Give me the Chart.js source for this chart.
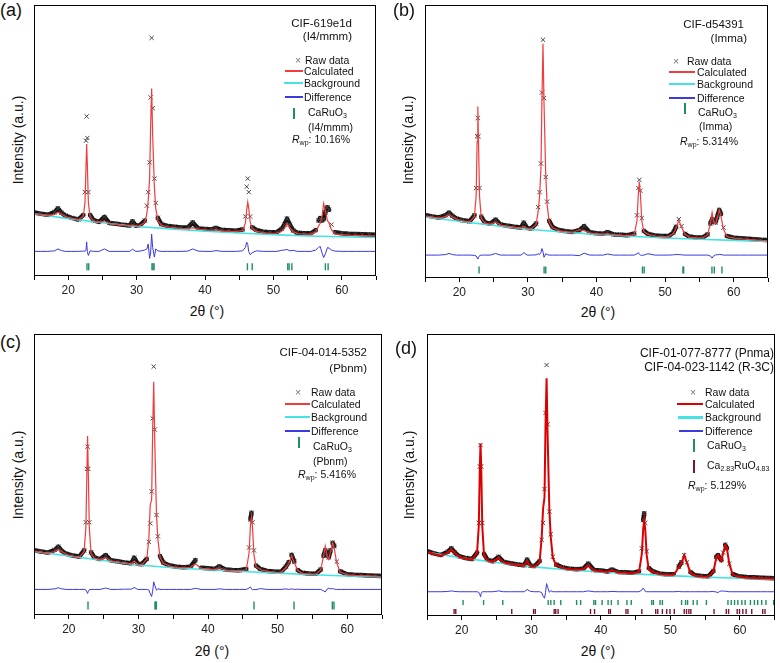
<!DOCTYPE html>
<html>
<head>
<meta charset="utf-8">
<script src="https://cdn.jsdelivr.net/npm/chart.js@4.4.0/dist/chart.umd.min.js"></script>
<style>
  html, body { margin: 0; padding: 0; background: #fff; overflow: hidden; }
  body { width: 780px; height: 663px; position: relative; font-family: "Liberation Sans", Arial, sans-serif; color: #111; }
  .box { position: absolute; }
  .t { position: absolute; white-space: nowrap; line-height: 1; }
  .l { transform: translate(0, -50%); }
  .r { transform: translate(-100%, -50%); }
  .c { transform: translate(-50%, -50%); }
  .v { transform: translate(-50%, -50%) rotate(-90deg); }
  .lt { font-size: 18px; }
  .ax { font-size: 14px; }
  .hd { font-size: 11.5px; }
  .lg { font-size: 10.5px; }
  .sb { font-size: 7px; vertical-align: -2px; }
  .ln { position: absolute; height: 2px; margin-top: -1px; }
  .bar { position: absolute; width: 1.5px; }
</style>
</head>
<body>

<!-- panel a -->
<div class="box" style="left:28px;top:0;width:354px;height:298px"><canvas id="cA"></canvas></div>
<div class="t l lt" style="left:0;top:10px">(a)</div>
<div class="t v ax" style="left:18px;top:140px">Intensity (a.u.)</div>
<div class="t c ax" style="left:207px;top:311px">2θ (°)</div>
<div class="t r hd" style="left:352px;top:24px">CIF-619e1d</div>
<div class="t r hd" style="left:352px;top:37px">(I4/mmm)</div>
<div class="t c lg" style="left:298px;top:60px;color:#777">×</div>
<div class="t l lg" style="left:305px;top:60px">Raw data</div>
<div class="ln" style="left:285px;width:18px;top:71px;background:#f03c3c"></div>
<div class="t l lg" style="left:304px;top:71px">Calculated</div>
<div class="ln" style="left:284px;width:19px;top:83px;background:#45e3e3"></div>
<div class="t l lg" style="left:304px;top:83px">Background</div>
<div class="ln" style="left:285px;width:18px;top:97px;background:#3a3ae0"></div>
<div class="t l lg" style="left:304px;top:97px">Difference</div>
<div class="bar" style="left:293px;top:108px;height:11px;background:#1f8f5f"></div>
<div class="t l lg" style="left:308px;top:113px">CaRuO<span class="sb">3</span></div>
<div class="t l lg" style="left:308px;top:127px">(I4/mmm)</div>
<div class="t l lg" style="left:292px;top:140px"><i>R</i><span class="sb">wp</span>: 10.16%</div>

<!-- panel b -->
<div class="box" style="left:419px;top:0;width:355px;height:300px"><canvas id="cB"></canvas></div>
<div class="t l lt" style="left:393px;top:10px">(b)</div>
<div class="t v ax" style="left:408px;top:140px">Intensity (a.u.)</div>
<div class="t c ax" style="left:598px;top:312px">2θ (°)</div>
<div class="t r hd" style="left:744px;top:25px">CIF-d54391</div>
<div class="t r hd" style="left:747px;top:39px">(Imma)</div>
<div class="t c lg" style="left:676px;top:61px;color:#777">×</div>
<div class="t l lg" style="left:687px;top:61px">Raw data</div>
<div class="ln" style="left:669px;width:26px;top:72px;background:#f03c3c"></div>
<div class="t l lg" style="left:697px;top:72px">Calculated</div>
<div class="ln" style="left:669px;width:26px;top:84px;background:#45e3e3"></div>
<div class="t l lg" style="left:697px;top:84px">Background</div>
<div class="ln" style="left:669px;width:26px;top:98px;background:#3a3ae0"></div>
<div class="t l lg" style="left:697px;top:98px">Difference</div>
<div class="bar" style="left:684px;top:103px;height:11px;background:#1f8f5f"></div>
<div class="t l lg" style="left:698px;top:113px">CaRuO<span class="sb">3</span></div>
<div class="t l lg" style="left:699px;top:126px">(Imma)</div>
<div class="t l lg" style="left:680px;top:142px"><i>R</i><span class="sb">wp</span>: 5.314%</div>

<!-- panel c -->
<div class="box" style="left:28px;top:328px;width:360px;height:309px"><canvas id="cC"></canvas></div>
<div class="t l lt" style="left:0;top:342px">(c)</div>
<div class="t v ax" style="left:18px;top:475px">Intensity (a.u.)</div>
<div class="t c ax" style="left:212px;top:651px">2θ (°)</div>
<div class="t r hd" style="left:367px;top:353px">CIF-04-014-5352</div>
<div class="t r hd" style="left:367px;top:369px">(Pbnm)</div>
<div class="t c lg" style="left:298px;top:392px;color:#777">×</div>
<div class="t l lg" style="left:311px;top:392px">Raw data</div>
<div class="ln" style="left:285px;width:25px;top:404px;background:#f03c3c"></div>
<div class="t l lg" style="left:311px;top:404px">Calculated</div>
<div class="ln" style="left:285px;width:25px;top:417px;background:#45e3e3"></div>
<div class="t l lg" style="left:311px;top:417px">Background</div>
<div class="ln" style="left:285px;width:25px;top:431px;background:#3a3ae0"></div>
<div class="t l lg" style="left:311px;top:431px">Difference</div>
<div class="bar" style="left:298px;top:437px;height:11px;background:#1f8f5f"></div>
<div class="t l lg" style="left:313px;top:447px">CaRuO<span class="sb">3</span></div>
<div class="t l lg" style="left:313px;top:461px">(Pbnm)</div>
<div class="t l lg" style="left:298px;top:475px"><i>R</i><span class="sb">wp</span>: 5.416%</div>

<!-- panel d -->
<div class="box" style="left:421px;top:328px;width:359px;height:310px"><canvas id="cD"></canvas></div>
<div class="t l lt" style="left:395px;top:348px">(d)</div>
<div class="t v ax" style="left:409px;top:475px">Intensity (a.u.)</div>
<div class="t c ax" style="left:598px;top:651px">2θ (°)</div>
<div class="t r hd" style="left:774px;top:353px;font-size:12px">CIF-01-077-8777 (Pnma)</div>
<div class="t r hd" style="left:774px;top:367px;font-size:12px">CIF-04-023-1142 (R-3C)</div>
<div class="t c lg" style="left:693px;top:392px;color:#777">×</div>
<div class="t l lg" style="left:705px;top:392px">Raw data</div>
<div class="ln" style="left:677px;width:26px;top:404px;background:#dd0000"></div>
<div class="t l lg" style="left:705px;top:404px">Calculated</div>
<div class="ln" style="left:678px;width:25px;top:417px;height:2.5px;background:#45e3e3"></div>
<div class="t l lg" style="left:705px;top:417px">Background</div>
<div class="ln" style="left:679px;width:24px;top:431px;background:#3a3ae0"></div>
<div class="t l lg" style="left:705px;top:431px">Difference</div>
<div class="bar" style="left:693px;top:439px;height:13px;background:#1f8f5f"></div>
<div class="t l lg" style="left:707px;top:446px">CaRuO<span class="sb">3</span></div>
<div class="bar" style="left:693px;top:460px;height:13px;background:#7b1438"></div>
<div class="t l lg" style="left:707px;top:466px">Ca<span class="sb">2.83</span>RuO<span class="sb">4.83</span></div>
<div class="t l lg" style="left:688px;top:486px"><i>R</i><span class="sb">wp</span>: 5.129%</div>

<script>
// 2theta grid shared by raw / calculated / difference curves
const twoTheta = [
  15, 16, 17, 18, 18.5, 19, 19.6, 20.5, 21.5,
  22.2, 22.45, 22.6, 22.7, 22.8, 22.95, 23.2, 23.7,
  24.5, 25.3, 26, 27, 28, 29, 29.4, 29.9, 30.5, 31.2,
  31.5, 31.7, 31.9, 32.05, 32.2, 32.35, 32.6, 32.8, 33.1, 33.6,
  34.5, 35.5, 36.5, 37.5, 38.2, 39, 40, 41, 41.6, 42.5, 43.5, 44.5, 45.5,
  45.9, 46.1, 46.25, 46.4, 46.6, 46.9, 47.5,
  48.5, 49.5, 50.5, 51.2, 51.6, 52.0, 52.4, 52.9, 53.5, 54.5, 55.5,
  56.2, 56.6, 56.85, 57.1, 57.35, 57.6, 57.9, 58.15, 58.5, 59,
  60, 61, 62, 63, 64, 65
];
const bgTheta = [15, 20, 25, 30, 35, 40, 45, 50, 55, 60, 65];

// (a) I4/mmm
const obsA = [
  23.5, 23.0, 22.6, 23.6, 25.0, 23.4, 22.3, 21.5, 20.9,
  22.5, 31, 50, 59, 51, 31, 22.5, 20.6,
  20.0, 21.8, 19.6, 19.3, 18.9, 18.7, 20.2, 18.6, 18.8, 20.5,
  26, 31, 42, 66, 88, 62, 36, 27, 21.5, 19.2,
  18.5, 18.2, 17.9, 17.9, 19.8, 17.6, 17.4, 17.2, 17.8, 17.0, 16.9, 16.7, 17.2,
  22, 33, 36, 31, 22, 18, 17,
  16.4, 16.2, 16.2, 17.4, 19, 21.2, 19, 16.8, 16.0, 15.8, 15.8,
  17, 20.5, 21.4, 20.5, 21, 23.5, 25.4, 24.5, 19, 16.2,
  15.8, 15.6, 15.5, 15.4, 15.3, 15.2
];
const calcA = [
  23.0, 22.7, 22.4, 22.8, 23.6, 22.8, 22.0, 21.3, 20.8,
  22, 27, 40, 48.8, 41, 27, 21.8, 20.4,
  19.8, 20.3, 19.4, 19.1, 18.7, 18.5, 18.9, 18.4, 18.5, 19.8,
  23, 28, 36, 55, 69.3, 52, 33, 25, 20.5, 18.8,
  18.2, 17.9, 17.6, 17.5, 17.9, 17.3, 17.1, 16.9, 17.1, 16.7, 16.6, 16.4, 16.8,
  19.5, 24.5, 27.3, 25, 20, 17.5, 16.5,
  16.0, 15.8, 15.8, 16.5, 17.5, 19.5, 18, 16.3, 15.7, 15.5, 15.5,
  16.2, 18.5, 19.5, 22, 26.8, 24, 20.5, 19.5, 17, 15.6,
  15.3, 15.1, 15.0, 14.9, 14.8, 14.8
];
const diffA = [
  9.1, 9.1, 9.1, 9.3, 10.0, 9.4, 9.1, 9.1, 9.1,
  9.2, 9.2, 9.5, 12.6, 9.0, 7.6, 9.3, 9.1,
  9.1, 10.0, 9.1, 9.1, 9.1, 9.1, 9.9, 9.1, 9.2, 9.6,
  10.0, 11.8, 6.5, 8.5, 15.5, 10.5, 7.0, 10.0, 9.3, 9.1,
  9.1, 9.1, 9.1, 9.2, 10.0, 9.2, 9.1, 9.1, 9.4, 9.1, 9.1, 9.1, 9.3,
  10.5, 12.5, 11.6, 9.0, 7.9, 8.6, 9.3,
  9.1, 9.1, 9.1, 9.5, 9.6, 9.8, 9.3, 9.5, 9.1, 9.1, 9.1,
  9.6, 10.6, 10.9, 8.6, 6.8, 8.2, 10.5, 10.3, 9.6, 9.2,
  9.1, 9.1, 9.1, 9.1, 9.1, 9.1
];
const bgA = [23.0, 21.2, 19.7, 18.3, 17.4, 16.6, 15.9, 15.3, 14.8, 14.5, 14.2];
const refA = [22.75, 23.0, 32.25, 32.4, 32.55, 46.2, 46.9, 52.1, 52.3, 52.7, 57.6, 58.0];

// (b) Imma
const obsB = [
  23.1, 22.6, 22.2, 23.0, 24.0, 22.8, 21.8, 21.2, 20.8,
  23, 33, 52, 58.7, 52, 33, 22.5, 20.4,
  19.9, 21.4, 19.6, 19.2, 18.8, 18.5, 20.3, 18.3, 18.2, 20,
  26, 31.5, 42, 68, 87.4, 66, 37, 28, 21, 18.6,
  17.6, 17.2, 16.9, 17.5, 19.0, 16.8, 16.4, 16.2, 16.8, 16.0, 15.9, 15.7, 16.3,
  23, 33, 36, 32, 22, 17.3, 16.2,
  15.6, 15.4, 15.4, 16.6, 18.8, 21.6, 19, 16.2, 15.2, 14.9, 14.9,
  16, 20, 21.6, 20.8, 20.4, 22.5, 25, 23.5, 18.5, 15.4,
  14.8, 14.6, 14.4, 14.2, 14.0, 13.9
];
const calcB = [
  22.8, 22.4, 22.0, 22.5, 23.2, 22.4, 21.6, 21.0, 20.6,
  22.5, 30, 50, 62.9, 50, 30, 22, 20.2,
  19.7, 20.6, 19.4, 19.0, 18.6, 18.3, 19.0, 18.1, 18.0, 19.6,
  24.5, 30, 40, 66, 85.9, 64, 38, 27, 20.5, 18.4,
  17.4, 17.0, 16.7, 17.7, 17.4, 16.6, 16.2, 16.0, 16.3, 15.8, 15.7, 15.5, 16,
  21, 31, 35.3, 31, 21, 17, 16,
  15.4, 15.2, 15.2, 16.2, 18.3, 21.2, 18.6, 16, 15.0, 14.7, 14.7,
  15.8, 20, 24, 20.5, 19.8, 22, 25, 22.5, 18, 15.2,
  14.6, 14.4, 14.2, 14.0, 13.8, 13.7
];
const diffB = [
  8.4, 8.4, 8.4, 8.6, 9.0, 8.6, 8.4, 8.4, 8.4,
  8.3, 8.1, 7.4, 7.0, 7.6, 8.2, 8.4, 8.4,
  8.4, 9.0, 8.4, 8.4, 8.4, 8.4, 9.3, 8.4, 8.4, 8.5,
  8.9, 8.6, 9.4, 10.8, 9.6, 7.6, 8.9, 8.6, 8.4, 8.4,
  8.4, 8.4, 8.4, 8.2, 9.1, 8.4, 8.4, 8.4, 8.8, 8.4, 8.4, 8.4, 8.4,
  8.9, 9.3, 8.7, 8.4, 8.3, 8.4, 8.9,
  8.4, 8.4, 8.4, 8.5, 8.6, 8.6, 8.5, 8.4, 8.4, 8.4, 8.4,
  8.4, 8.1, 7.3, 8.2, 8.5, 8.5, 8.7, 8.6, 8.4, 8.4,
  8.4, 8.4, 8.4, 8.4, 8.4, 8.4
];
const bgB = [22.4, 20.8, 19.3, 17.9, 16.9, 16.0, 15.3, 14.7, 14.2, 13.8, 13.4];
const refB = [22.88, 32.36, 32.6, 46.7, 46.95, 52.6, 52.7, 56.83, 57.17, 58.29];

// (c) Pbnm
const obsC = [
  23.1, 22.6, 22.2, 23.2, 24.3, 22.8, 21.8, 21.2, 20.8,
  23, 33, 52, 59.9, 52, 33, 22.3, 20.4,
  19.9, 21.3, 19.5, 19.1, 18.7, 18.4, 20.4, 18.2, 18.1, 20,
  26, 32.6, 44, 70, 88.4, 66, 35.6, 28, 21, 18.6,
  17.6, 17.2, 17.0, 17.2, 19.5, 16.8, 16.6, 16.4, 17.3, 16.2, 16.0, 15.9, 16.4,
  24, 34, 36.4, 33, 23, 17.6, 16.4,
  15.7, 15.5, 15.4, 17.2, 18.8, 21.4, 19, 16, 15.0, 14.8, 14.7,
  16.2, 21, 23.1, 21.5, 20.5, 23, 25.7, 24.5, 19, 15.5,
  14.5, 14.3, 14.2, 14.1, 14.0, 13.9
];
const calcC = [
  22.8, 22.4, 22.0, 22.6, 23.4, 22.5, 21.6, 21.0, 20.6,
  22.5, 31, 51, 63.7, 51, 31, 21.8, 20.2,
  19.7, 20.5, 19.3, 18.9, 18.5, 18.2, 19.2, 18.0, 17.9, 19.8,
  27, 39.1, 41, 66, 83, 62, 35.6, 27, 20.5, 18.4,
  17.4, 17.0, 16.8, 17.0, 18.2, 16.6, 16.4, 16.2, 16.8, 16.0, 15.8, 15.7, 16.1,
  22, 32, 35, 31, 21.5, 17.2, 16.2,
  15.5, 15.3, 15.2, 16.8, 18.3, 21.0, 18.6, 15.8, 14.8, 14.6, 14.5,
  16, 21, 24.5, 21, 19.8, 22.5, 25.7, 23.5, 18.5, 15.3,
  14.3, 14.1, 14.0, 13.9, 13.8, 13.7
];
const diffC = [
  9.1, 9.1, 9.1, 9.3, 9.7, 9.3, 9.1, 9.1, 9.1,
  9.1, 8.9, 8.2, 7.7, 8.4, 9.0, 9.1, 9.1,
  9.1, 9.6, 9.1, 9.1, 9.2, 9.2, 9.8, 9.1, 9.1, 9.1,
  8.9, 7.6, 6.6, 8.5, 11.8, 10.6, 8.8, 9.4, 9.1, 9.1,
  9.1, 9.1, 9.1, 9.1, 9.5, 9.1, 9.1, 9.1, 9.3, 9.1, 9.1, 9.1, 9.1,
  9.6, 10.0, 9.3, 8.9, 9.1, 9.0, 9.4,
  9.1, 9.1, 9.1, 9.3, 9.1, 9.3, 9.1, 9.2, 9.1, 9.1, 9.1,
  9.1, 8.6, 8.2, 9.2, 9.5, 9.3, 9.4, 9.2, 9.1, 9.1,
  9.1, 9.1, 9.1, 9.1, 9.1, 9.1
];
const bgC = [22.6, 21.0, 19.4, 17.8, 16.8, 16.1, 15.5, 14.9, 14.3, 13.9, 13.5];
const refC = [22.76, 32.38, 32.5, 32.58, 46.61, 52.36, 57.86, 58.1];

// (d) Pnma + R-3C, two phases
const obsD = [
  23.0, 22.2, 21.6, 22.8, 24.0, 22.5, 21.2, 20.6, 20.2,
  22.5, 33, 53, 60.6, 53, 33, 22, 19.9,
  19.4, 21.0, 19.2, 18.7, 18.3, 18.0, 20.0, 17.8, 17.7, 19.5,
  27, 33, 45, 72, 89, 68, 37, 29, 21, 18.2,
  17.2, 16.8, 16.6, 16.8, 18.6, 16.3, 16.1, 15.8, 16.5, 15.6, 15.5, 15.3, 15.8,
  24, 34, 36.4, 33, 23, 17, 15.8,
  15.0, 14.8, 14.8, 17.5, 19, 21.6, 19, 15.6, 14.5, 14.2, 14.1,
  16, 21, 21.6, 20.5, 19.8, 22.5, 25.2, 24, 18.5, 14.8,
  14.0, 13.8, 13.7, 13.6, 13.5, 13.4
];
const calcD = [
  22.8, 22.0, 21.4, 22.4, 23.6, 22.2, 21.0, 20.4, 20.0,
  22.3, 32, 53, 61.2, 53, 32, 21.6, 19.7,
  19.2, 20.6, 19.0, 18.5, 18.1, 17.8, 19.4, 17.6, 17.5, 19.2,
  28, 38.2, 42, 68, 84.3, 64, 37.6, 28, 20.6, 18.0,
  17.0, 16.6, 16.4, 16.6, 18.0, 16.1, 15.9, 15.6, 16.2, 15.4, 15.3, 15.1, 15.6,
  22, 31, 34, 30.5, 21.5, 16.6, 15.6,
  14.8, 14.6, 14.6, 17.2, 18.7, 21.6, 18.8, 15.4, 14.3, 14.0, 13.9,
  15.8, 20.5, 21.6, 20.5, 19.6, 22.3, 25.2, 23.8, 18.3, 14.6,
  13.8, 13.6, 13.5, 13.4, 13.3, 13.2
];
const diffD = [
  8.6, 8.6, 8.6, 8.7, 8.9, 8.7, 8.6, 8.6, 8.6,
  8.6, 8.4, 7.6, 6.8, 8.0, 8.6, 8.6, 8.6,
  8.6, 8.9, 8.6, 8.6, 8.6, 8.6, 9.4, 8.7, 8.6, 8.6,
  8.3, 7.0, 6.3, 8.4, 11.5, 10.2, 8.4, 9.0, 8.6, 8.6,
  8.6, 8.6, 8.6, 8.6, 8.9, 8.6, 8.6, 8.6, 8.7, 8.6, 8.6, 8.6, 8.6,
  9.2, 9.9, 9.4, 8.7, 8.6, 8.6, 8.6,
  8.6, 8.6, 8.6, 8.7, 8.6, 8.6, 8.6, 8.6, 8.6, 8.6, 8.6,
  8.7, 8.5, 8.3, 8.7, 8.9, 8.8, 8.8, 8.7, 8.6, 8.6,
  8.6, 8.6, 8.6, 8.6, 8.6, 8.6
];
const bgD = [22.6, 20.6, 19.0, 17.5, 16.4, 15.6, 14.9, 14.3, 13.8, 13.4, 13.0];
const refD1 = [20.19, 23.14, 25.9, 32.43, 32.81, 33.29, 34.24, 36.52, 37.1, 39.0, 39.24, 40.19,
  41.05, 41.52, 42.48, 43.76, 44.38, 47.33, 47.57, 48.52, 48.86, 51.62, 52.19, 52.48, 53.29,
  53.86, 55.19, 58.29, 58.76, 59.24, 59.71, 60.29, 60.76, 61.52, 62.1, 62.57, 63.14, 63.76, 64.86];
const refD2 = [18.9, 19.14, 27.19, 30.33, 30.57, 33.29, 33.52, 33.86, 38.52, 39.1, 41.14, 41.38,
  43.62, 43.9, 45.9, 47.9, 48.19, 48.86, 49.48, 49.95, 50.57, 52.0, 52.33, 52.67, 52.95, 56.29,
  58.05, 58.38, 59.62, 59.95, 60.43, 60.9, 61.71, 63.29, 63.62];

Chart.defaults.font.family = '"Liberation Sans", Arial, sans-serif';
Chart.defaults.color = '#222';

// box around the plot area
const frame = {
  id: 'frame',
  afterDraw(chart) {
    const a = chart.chartArea, c = chart.ctx;
    c.save();
    c.strokeStyle = '#000';
    c.lineWidth = 1;
    c.strokeRect(Math.round(a.left) + 0.5, Math.round(a.top) + 0.5,
      Math.round(a.right - a.left) - 1, Math.round(a.bottom - a.top) - 1);
    c.restore();
  }
};

function pts(xs, ys) {
  return xs.map((x, i) => ({ x: x, y: ys[i] }));
}

// the raw-data band is only drawn along the flat parts; steep peak flanks show just the crosses
const bandColor = s => (Math.abs(s.p1.parsed.y - s.p0.parsed.y) > 2.5 ? 'rgba(0,0,0,0)' : '#151515');

function panel(id, pad, obs, calc, bg, diff, phases, calcColor, calcWidth) {
  const datasets = [
    {
      label: 'Raw data', data: pts(twoTheta, obs), showLine: true,
      borderColor: '#151515', borderWidth: 4.5, borderJoinStyle: 'round', borderCapStyle: 'round',
      segment: { borderColor: bandColor },
      pointStyle: 'crossRot', pointRadius: 3, pointBorderColor: '#444', pointBorderWidth: 1, order: 5
    },
    { label: 'Background', data: pts(bgTheta, bg), showLine: true, borderColor: '#45e3e3', borderWidth: 1.6, pointRadius: 0, order: 4 },
    { label: 'Calculated', data: pts(twoTheta, calc), showLine: true, borderColor: calcColor, borderWidth: calcWidth, pointRadius: 0, order: 3 },
    { label: 'Difference', data: pts(twoTheta, diff), showLine: true, borderColor: '#3a3ae0', borderWidth: 1, pointRadius: 0, order: 2 }
  ];
  phases.forEach(p => {
    datasets.push({
      label: p.name, data: p.ref.map(x => ({ x: x, y: p.y })),
      pointStyle: 'line', pointRotation: 90, pointRadius: p.r,
      pointBorderColor: p.color, pointBorderWidth: 1.4, order: 1
    });
  });

  new Chart(document.getElementById(id), {
    type: 'scatter',
    data: { datasets: datasets },
    options: {
      responsive: true,
      maintainAspectRatio: false,
      animation: false,
      layout: { padding: pad },
      plugins: { legend: { display: false }, tooltip: { enabled: false } },
      scales: {
        x: {
          type: 'linear', min: 15, max: 65,
          afterFit: s => { s.height = 22; },
          border: { display: false },
          grid: { drawOnChartArea: false, drawTicks: true, tickLength: 4, color: '#000' },
          ticks: {
            stepSize: 5, autoSkip: false, maxRotation: 0, padding: 3, color: '#222',
            font: { size: 12 },
            callback: v => (v % 10 === 0 ? v : '')
          }
        },
        y: { display: false, min: 0, max: 100 }
      }
    },
    plugins: [frame]
  });
}

panel('cA', { left: 6, right: 6, top: 1, bottom: 0 }, obsA, calcA, bgA, diffA,
  [{ name: 'CaRuO3', ref: refA, y: 3.4, r: 3.5, color: '#1f8f5f' }], '#f03c3c', 1.2);
panel('cB', { left: 6, right: 6, top: 1, bottom: 0 }, obsB, calcB, bgB, diffB,
  [{ name: 'CaRuO3', ref: refB, y: 2.9, r: 3.5, color: '#1f8f5f' }], '#f03c3c', 1.2);
panel('cC', { left: 6, right: 6, top: 6, bottom: 0 }, obsC, calcC, bgC, diffC,
  [{ name: 'CaRuO3', ref: refC, y: 3.4, r: 4, color: '#1f8f5f' }], '#f03c3c', 1.2);
panel('cD', { left: 6, right: 2, top: 6, bottom: 0 }, obsD, calcD, bgD, diffD,
  [{ name: 'CaRuO3', ref: refD1, y: 4.8, r: 2.5, color: '#1f8f5f' },
   { name: 'Ca2.83RuO4.83', ref: refD2, y: 1.6, r: 2.5, color: '#7b1438' }], '#dd0000', 2);
</script>
</body>
</html>
